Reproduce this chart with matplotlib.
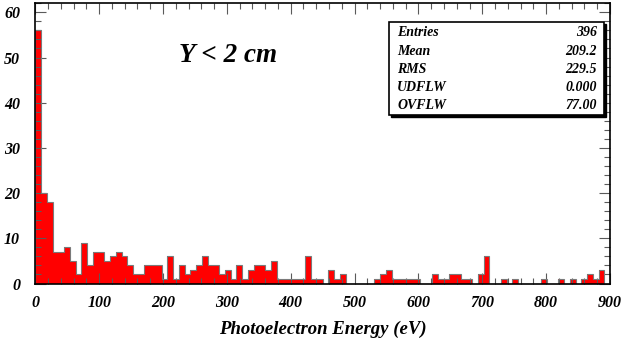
import numpy as np
import matplotlib
matplotlib.use("Agg")
import matplotlib.pyplot as plt
from matplotlib.patches import Rectangle
from matplotlib.ticker import MultipleLocator

# Photoelectron energy spectrum, 100 bins of 9 eV from 0 to 900 eV
bin_lo = 0.0
bin_hi = 900.0
n_bins = 100
counts = [
    56, 20, 18, 7, 7, 8, 5, 2, 9, 4,
    7, 7, 5, 6, 7, 6, 4, 2, 2, 4,
    4, 4, 1, 6, 1, 4, 2, 3, 4, 6,
    4, 4, 2, 3, 1, 4, 1, 3, 4, 4,
    3, 5, 1, 1, 1, 1, 1, 6, 1, 1,
    0, 3, 1, 2, 0, 0, 0, 0, 0, 1,
    2, 3, 1, 1, 1, 1, 1, 0, 0, 2,
    1, 1, 2, 2, 1, 1, 0, 2, 6, 0,
    0, 1, 0, 1, 0, 0, 0, 0, 1, 0,
    0, 1, 0, 1, 0, 1, 2, 1, 3, 0,
]

stat_names = ["Entries", "Mean", "RMS", "UDFLW", "OVFLW"]
stat_values = ["396", "209.2", "229.5", "0.000", "77.00"]

title_text = "Y < 2 cm"
x_label = "Photoelectron Energy (eV)"

serif = "Liberation Serif"
W, H = 629, 343

fig = plt.figure(figsize=(W / 100, H / 100), dpi=100)
ax = fig.add_axes([35.3 / W, 1 - 283.5 / H, (610 - 35.3) / W, (283.5 - 3.3) / H])

edges = np.linspace(bin_lo, bin_hi, n_bins + 1)
ax.stairs(counts, edges, fill=True, color="#ff0000", zorder=2)
ax.stairs(counts, edges, color="#7a7a7a", linewidth=0.8, zorder=3)

ax.set_xlim(0, 900)
ax.set_ylim(0, 62)

ax.xaxis.set_major_locator(MultipleLocator(100))
ax.xaxis.set_minor_locator(MultipleLocator(20))
ax.yaxis.set_major_locator(MultipleLocator(10))
ax.yaxis.set_minor_locator(MultipleLocator(2))
ax.tick_params(which="both", direction="in", top=True, right=True,
               color="#5a5a5a", width=0.8)
ax.tick_params(which="major", length=8)
ax.tick_params(which="minor", length=4)
ax.tick_params(axis="x", which="major", pad=8)
ax.tick_params(axis="y", which="major", pad=11)
for lab in ax.get_xticklabels() + ax.get_yticklabels():
    lab.set_fontfamily(serif)
    lab.set_fontstyle("italic")
    lab.set_fontweight("bold")
    lab.set_fontsize(11.5)
for sp in ax.spines.values():
    sp.set_linewidth(1.2)
    sp.set_color("black")
    sp.set_zorder(5)
ax.set_axisbelow(False)

ax.set_xlabel(x_label, fontfamily=serif, fontstyle="italic", fontweight="bold",
              fontsize=13.5, labelpad=7)

fig.text(228 / W, 1 - 56 / H, title_text, fontfamily=serif, fontstyle="italic",
         fontweight="bold", fontsize=19.5, ha="center", va="center")

# statistics box with drop shadow
bx0, bx1, by0, by1 = 389, 604, 22, 115
sh = 2
fig.patches.append(Rectangle(((bx0 + sh) / W, 1 - (by1 + sh) / H),
                             (bx1 - bx0) / W, (by1 - by0) / H,
                             transform=fig.transFigure, facecolor="black",
                             edgecolor="black", zorder=6))
fig.patches.append(Rectangle((bx0 / W, 1 - by1 / H),
                             (bx1 - bx0) / W, (by1 - by0) / H,
                             transform=fig.transFigure, facecolor="white",
                             edgecolor="black", linewidth=1.2, zorder=7))
row0, row_step = 33, 18.2
for i, (name, val) in enumerate(zip(stat_names, stat_values)):
    yy = 1 - (row0 + i * row_step) / H
    fig.text(397 / W, yy, name, fontfamily=serif, fontstyle="italic",
             fontweight="bold", fontsize=10, ha="left", va="center", zorder=8)
    fig.text(597 / W, yy, val, fontfamily=serif, fontstyle="italic",
             fontweight="bold", fontsize=10, ha="right", va="center", zorder=8)

fig.savefig("out.png", dpi=100)
